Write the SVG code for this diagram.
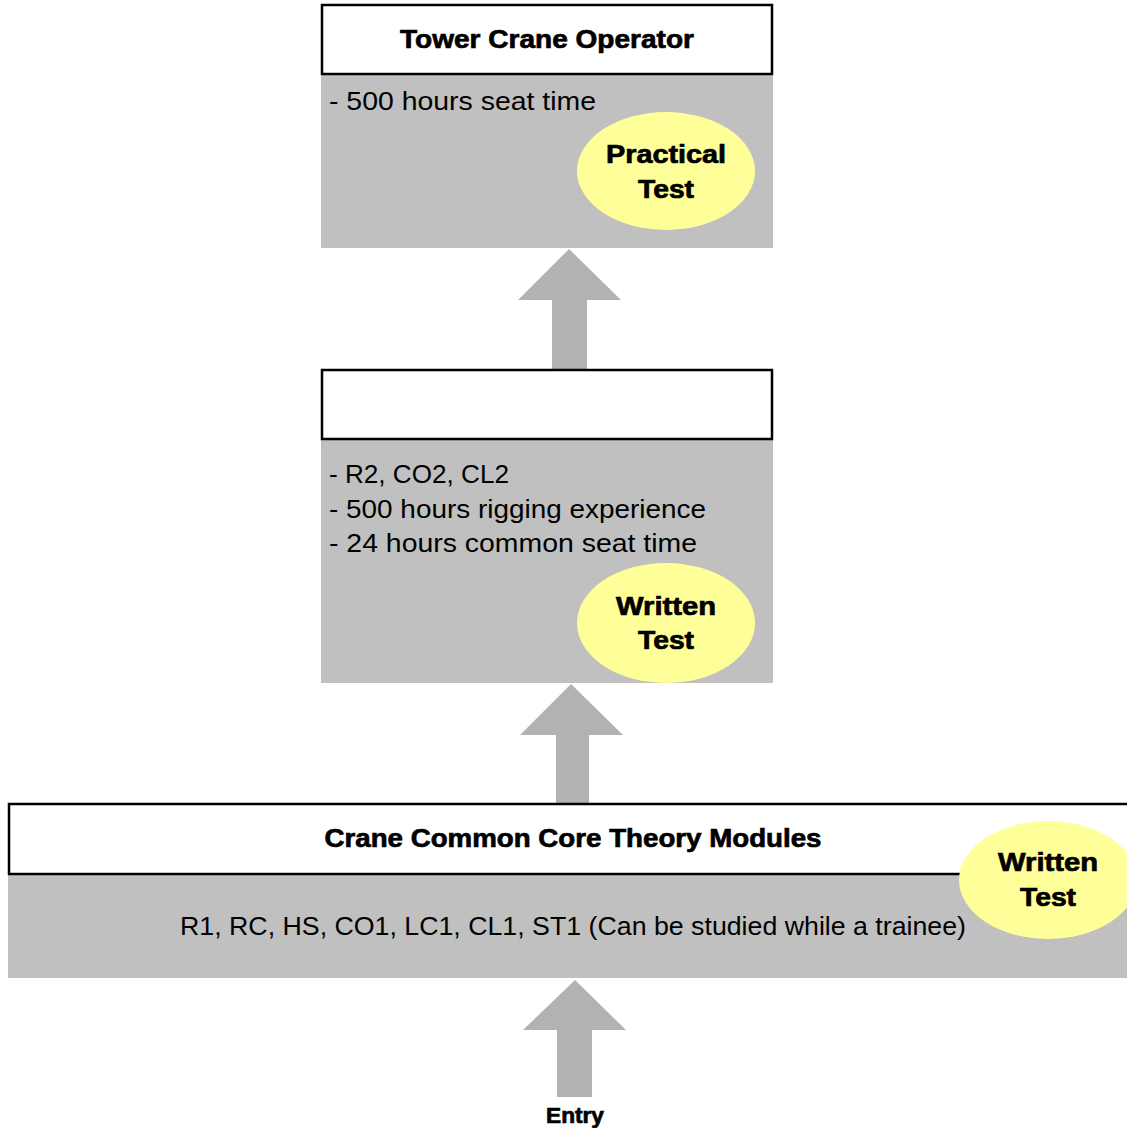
<svg xmlns="http://www.w3.org/2000/svg" width="1127" height="1128" viewBox="0 0 1127 1128">
<style>
.hdr{fill:#ffffff;stroke:#000000;stroke-width:2.5}
.body{fill:#c0c0c0}
.oval{fill:#ffff99}
.arrow{fill:#b2b2b2}
.title{font-family:"Liberation Sans",Arial,sans-serif;font-weight:bold;font-size:26px;fill:#000;stroke:#000;stroke-width:0.7;text-anchor:middle}
.txt{font-family:"Liberation Sans",Arial,sans-serif;font-size:26px;fill:#000}
.ctr{text-anchor:middle}
</style>
<rect width="1127" height="1128" fill="#ffffff"/>
<g id="connectors">
<polygon class="arrow" points="569,249 621,300 587,300 587,370 552,370 552,300 518,300"/>
<polygon class="arrow" points="571,684 623,735 589,735 589,803 556,803 556,735 520,735"/>
<polygon class="arrow" points="575,980 626,1030 592,1030 592,1097 557,1097 557,1030 523,1030"/>
</g>
<g id="tower-crane-operator">
<rect class="body" x="321" y="74" width="452" height="174"/>
<rect class="hdr" x="322" y="5" width="450" height="69"/>
<text class="title" x="547" y="48" textLength="294" lengthAdjust="spacingAndGlyphs">Tower Crane Operator</text>
<text class="txt" x="329" y="110" textLength="267" lengthAdjust="spacingAndGlyphs">- 500 hours seat time</text>
<ellipse class="oval" cx="666" cy="171" rx="89" ry="59"/>
<text class="title" x="666" y="163" textLength="120" lengthAdjust="spacingAndGlyphs">Practical</text>
<text class="title" x="666" y="198" textLength="56" lengthAdjust="spacingAndGlyphs">Test</text>
</g>
<g id="middle-level">
<rect class="body" x="321" y="439" width="452" height="244"/>
<rect class="hdr" x="322" y="370" width="450" height="69"/>
<text class="txt" x="329" y="483" textLength="180" lengthAdjust="spacingAndGlyphs">- R2, CO2, CL2</text>
<text class="txt" x="329" y="518" textLength="377" lengthAdjust="spacingAndGlyphs">- 500 hours rigging experience</text>
<text class="txt" x="329" y="552" textLength="368" lengthAdjust="spacingAndGlyphs">- 24 hours common seat time</text>
<ellipse class="oval" cx="666" cy="623" rx="89" ry="60"/>
<text class="title" x="666" y="615" textLength="100" lengthAdjust="spacingAndGlyphs">Written</text>
<text class="title" x="666" y="649" textLength="56" lengthAdjust="spacingAndGlyphs">Test</text>
</g>
<g id="common-core">
<rect class="body" x="8" y="874" width="1119" height="104"/>
<rect class="hdr" x="9" y="804" width="1130" height="70"/>
<text class="title" x="573" y="847" textLength="497" lengthAdjust="spacingAndGlyphs">Crane Common Core Theory Modules</text>
<text class="txt ctr" x="573" y="935" textLength="786" lengthAdjust="spacingAndGlyphs">R1, RC, HS, CO1, LC1, CL1, ST1 (Can be studied while a trainee)</text>
<ellipse class="oval" cx="1048" cy="880" rx="89" ry="59"/>
<text class="title" x="1048" y="871" textLength="100" lengthAdjust="spacingAndGlyphs">Written</text>
<text class="title" x="1048" y="906" textLength="56" lengthAdjust="spacingAndGlyphs">Test</text>
</g>
<g id="entry">
<text class="title" x="575" y="1123" style="font-size:22px" textLength="58" lengthAdjust="spacingAndGlyphs">Entry</text>
</g>
</svg>
